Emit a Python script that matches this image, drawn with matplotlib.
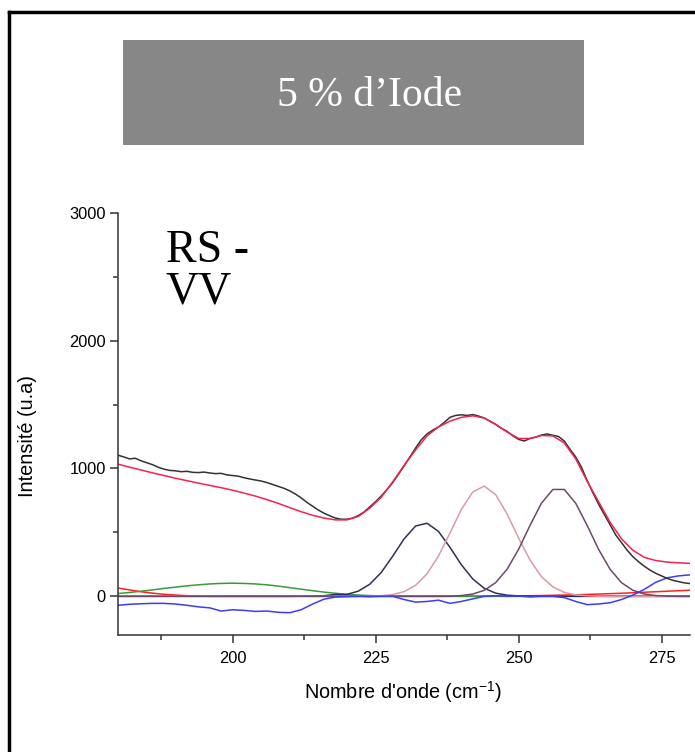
import matplotlib
matplotlib.use("Agg")
import matplotlib.pyplot as plt
from matplotlib.patches import Rectangle
from matplotlib.lines import Line2D
from matplotlib.ticker import MultipleLocator

# wavenumber grids (cm-1)
x_exp = list(range(180, 281))
x_fit = list(range(180, 281, 2))

# measured spectrum (black), 1 cm-1 steps
y_exp = [1104, 1090, 1075, 1080, 1060, 1045, 1030, 1010, 995, 985,
         982, 975, 978, 970, 968, 972, 965, 960, 962, 950,
         945, 940, 928, 918, 910, 902, 890, 875, 860, 845,
         825, 800, 770, 735, 705, 675, 650, 630, 612, 603,
         603, 612, 632, 660, 700, 740, 785, 835, 890, 955,
         1020, 1090, 1160, 1225, 1270, 1300, 1325, 1360, 1400, 1415,
         1420, 1415, 1422, 1410, 1395, 1370, 1345, 1315, 1290, 1255,
         1228, 1215, 1235, 1245, 1262, 1270, 1260, 1250, 1215, 1150,
         1090, 1010, 905, 810, 720, 640, 560, 480, 420, 360,
         310, 270, 235, 205, 180, 160, 140, 125, 115, 105,
         100]

# cumulative fit (red), 2 cm-1 steps
y_fit = [1034, 1010, 988, 966, 945, 924, 905, 886, 868, 850,
         830, 808, 784, 757, 727, 694, 662, 634, 612, 598,
         598, 625, 690, 775, 895, 1025, 1145, 1255, 1325, 1370,
         1400, 1412, 1395, 1345, 1285, 1235, 1235, 1258, 1255, 1200,
         1075, 900, 740, 580, 450, 360, 305, 280, 268, 262,
         258]

# fitted components, 2 cm-1 steps
y_green = [22, 30, 40, 50, 62, 72, 82, 90, 97, 101,
           103, 101, 97, 90, 80, 68, 56, 44, 33, 24,
           16, 10, 6, 3, 1, 0, 0, 0, 0, 0,
           0, 0, 0, 0, 0, 0, 0, 0, 0, 0,
           0, 0, 0, 0, 0, 0, 0, 0, 0, 0,
           0]
y_navy = [0, 0, 0, 0, 0, 0, 0, 0, 0, 0,
          0, 0, 0, 0, 0, 0, 1, 2, 5, 15,
          15, 41, 95, 187, 314, 450, 550, 572, 508, 384,
          247, 136, 63, 25, 9, 3, 1, 0, 0, 0,
          0, 0, 0, 0, 0, 0, 0, 0, 0, 0,
          0]
y_pink = [0, 0, 0, 0, 0, 0, 0, 0, 0, 0,
          0, 0, 0, 0, 0, 0, 0, 0, 0, 0,
          0, 0, 1, 5, 14, 37, 86, 176, 315, 494,
          679, 817, 862, 796, 644, 457, 284, 154, 74, 31,
          11, 4, 1, 0, 0, 0, 0, 0, 0, 0,
          0]
y_mauve = [0, 0, 0, 0, 0, 0, 0, 0, 0, 0,
           0, 0, 0, 0, 0, 0, 0, 0, 0, 0,
           0, 0, 0, 0, 0, 0, 0, 0, 0, 1,
           6, 18, 47, 107, 212, 367, 554, 728, 836, 836,
           728, 554, 367, 212, 107, 47, 18, 6, 2, 0,
           0]
y_base = [65, 50, 36, 25, 16, 10, 5, 2, 0, 0,
          0, 0, 0, 0, 0, 0, 0, 0, 0, 0,
          0, 0, 0, 0, 0, 0, 0, 0, 0, 0,
          0, 0, 0, 1, 2, 3, 5, 6, 8, 10,
          12, 15, 18, 21, 24, 28, 32, 36, 40, 44,
          48]
y_resid = [-70, -62, -58, -55, -55, -60, -70, -82, -90, -115,
           -105, -110, -118, -115, -125, -128, -105, -60, -22, -6,
           -2, 0, -3, 0, 0, -25, -45, -40, -30, -55,
           -40, -20, 0, 5, 0, 2, -5, 0, 0, -10,
           -40, -65, -60, -50, -25, 10, 55, 110, 145, 160,
           168]
x_zero = [180, 280]
y_zero = [0, 0]

plt.rcParams['font.family'] = ['Liberation Sans', 'DejaVu Sans']
plt.rcParams['mathtext.default'] = 'regular'

fig = plt.figure(figsize=(6.95, 7.52), dpi=100)
ax = fig.add_axes([0.170, 0.156, 0.823, 0.561])

ax.plot(x_zero, y_zero, color='#ff9a66', lw=1.1)
ax.plot(x_fit, y_base, color='#ff2020', lw=1.1)
ax.plot(x_fit, y_green, color='#3a9a3a', lw=1.1)
ax.plot(x_fit, y_navy, color='#2f2f5c', lw=1.1)
ax.plot(x_fit, y_pink, color='#d99ca6', lw=1.1)
ax.plot(x_fit, y_mauve, color='#6e4a6a', lw=1.1)
ax.plot(x_fit, y_resid, color='#3c3cff', lw=1.1)
ax.plot(x_exp, y_exp, color='#333333', lw=1.1)
ax.plot(x_fit, y_fit, color='#f5234f', lw=1.1)

ax.set_xlim(180, 280)
ax.set_ylim(-300, 3000)
ax.xaxis.set_major_locator(MultipleLocator(25))
ax.xaxis.set_minor_locator(MultipleLocator(12.5))
ax.yaxis.set_major_locator(MultipleLocator(1000))
ax.yaxis.set_minor_locator(MultipleLocator(500))
for s in ['top', 'right']:
    ax.spines[s].set_visible(False)
for s in ['left', 'bottom']:
    ax.spines[s].set_linewidth(1.1)
    ax.spines[s].set_color('#333333')
ax.tick_params(which='major', direction='out', length=6, width=1.1,
               color='#333333', labelsize=11.8)
ax.tick_params(which='minor', direction='out', length=3.6, width=1.1,
               color='#333333')
ax.tick_params(axis='x', which='major', pad=6)
ax.tick_params(axis='y', which='major', pad=3)

fig.text(28 / 695, 1 - 436 / 752, 'Intensité (u.a)', rotation=90,
         ha='center', va='center', fontsize=14.3)
fig.text(403 / 695, 1 - 699 / 752, "Nombre d'onde (cm$^{-1}$)",
         ha='center', va='baseline', fontsize=14.3)

# grey title box
fig.patches.append(Rectangle((123 / 695, 1 - 145 / 752), 461 / 695, 105 / 752,
                             transform=fig.transFigure, facecolor='#878787',
                             edgecolor='none'))
fig.text(370 / 695, 1 - 96 / 752, '5 % d\u2019Iode', color='white',
         ha='center', va='center', fontsize=30, family='Liberation Serif')

fig.text(166 / 695, 1 - 229 / 752, 'RS -\nVV', ha='left', va='top',
         fontsize=33, family='Liberation Serif', linespacing=1.0)

# outer frame (left and top edges)
fx = 9 / 695
fy = 1 - 12 / 752
fig.add_artist(Line2D([fx, fx], [0, fy], transform=fig.transFigure,
                      color='black', lw=2.5))
fig.add_artist(Line2D([fx, 1], [fy, fy], transform=fig.transFigure,
                      color='black', lw=2.5))

fig.savefig('out.png', dpi=100)
